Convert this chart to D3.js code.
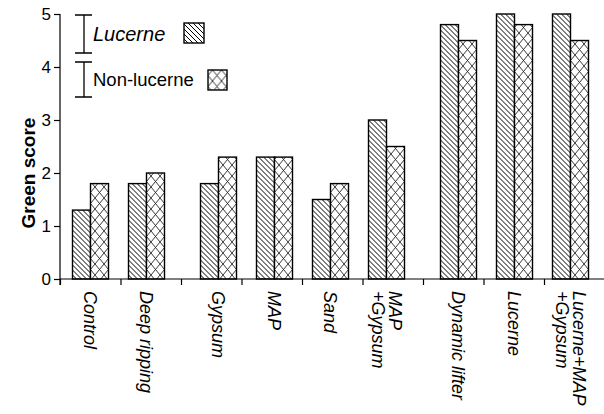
<!DOCTYPE html>
<html><head><meta charset="utf-8">
<script src="https://cdn.jsdelivr.net/npm/d3@7"></script>
<style>body{margin:0;background:#fff}svg{display:block}text{font-family:"Liberation Sans",Arial,sans-serif;fill:#000}</style>
</head><body>
<svg id="c" width="604" height="414"></svg>
<script>
const categories = [["Control"],["Deep ripping"],["Gypsum"],["MAP"],["Sand"],["MAP","+Gypsum"],["Dynamic lifter"],["Lucerne"],["Lucerne+MAP","+Gypsum"]];
const groupIndex = [0,0,1,1,1,1,2,2,2];
const lucerne    = [1.3,1.8,1.8,2.3,1.5,3.0,4.8,5.0,5.0];
const nonLucerne = [1.8,2.0,2.3,2.3,1.8,2.5,4.5,4.8,4.5];
const yTicks = [0,1,2,3,4,5];
const seriesNames = ["Lucerne","Non-lucerne"];

const svg = d3.select("#c");
const x0 = 60, yBase = 279, yTop = 14;
const gap = 16/56;
const y = d3.scaleLinear().domain([0,5]).range([yBase,yTop]);
const x = d3.scaleLinear().domain([0, 8 + 2*gap]).range([90.5, 570.5]);
const pos = (i) => i + groupIndex[i]*gap;
const tickScale = d3.scaleLinear().domain([0,9]).range([x0, x0 + 9*60.5]);
const bw = 18;

const defs = svg.append("defs");
const p1 = defs.append("pattern").attr("id","hatch").attr("patternUnits","userSpaceOnUse").attr("width",5).attr("height",5);
p1.append("rect").attr("width",5).attr("height",5).attr("fill","#fff");
p1.append("path").attr("d","M-1,-1 L6,6 M-1,4 L1,6 M4,-1 L6,1").attr("stroke","#000").attr("stroke-width",1);
const p2 = defs.append("pattern").attr("id","cross").attr("patternUnits","userSpaceOnUse").attr("x",4.5).attr("width",9).attr("height",11);
p2.append("rect").attr("width",9).attr("height",11).attr("fill","#fff");
p2.append("path").attr("d","M0,0 L9,11 M9,0 L0,11").attr("stroke","#222").attr("stroke-width",0.9);

// bars
const g = svg.append("g");
categories.forEach((c,i) => {
  const cx = x(pos(i));
  const gl = g.append("g").attr("transform",`translate(${cx-bw},0)`);
  gl.append("rect").attr("x",0).attr("y",y(lucerne[i])).attr("width",bw).attr("height",y(0)-y(lucerne[i]))
    .attr("fill","url(#hatch)").attr("stroke","#000").attr("stroke-width",1.4);
  const gr = g.append("g").attr("transform",`translate(${cx},0)`);
  gr.append("rect").attr("x",0).attr("y",y(nonLucerne[i])).attr("width",bw).attr("height",y(0)-y(nonLucerne[i]))
    .attr("fill","url(#cross)").attr("stroke","#000").attr("stroke-width",1.4);
});

// y axis
const ya = svg.append("g").attr("transform",`translate(${x0},0)`)
  .call(d3.axisLeft(y).tickValues(yTicks).tickSize(6).tickPadding(3).tickFormat(d3.format("d")));
ya.select(".domain").attr("d",`M0,${yTop}V${yBase+6}`).attr("stroke","#000").attr("stroke-width",1.2);
ya.selectAll(".tick line").attr("stroke","#000").attr("stroke-width",1.2);
ya.selectAll("text").attr("font-size",17).attr("font-family","Liberation Sans, Arial, sans-serif").attr("fill","#000");

// x axis
const xa = svg.append("g").attr("transform",`translate(0,${yBase})`)
  .call(d3.axisBottom(tickScale).ticks(9).tickSize(6).tickFormat(""));
xa.select(".domain").attr("d",`M${x0},0H604`).attr("stroke","#000").attr("stroke-width",1.2);
xa.selectAll(".tick line").attr("stroke","#000").attr("stroke-width",1.2);

// x labels
categories.forEach((c,i) => {
  const cx = x(pos(i));
  const n = c.length;
  c.forEach((line,k) => {
    const off = (n===1) ? 0 : (k===0 ? 9 : -8.5);
    svg.append("text").attr("transform",`translate(${cx+off},291) rotate(90)`)
      .attr("dy","0.35em").attr("font-size",18).attr("font-style","italic").text(line);
  });
});

// y title
svg.append("text").attr("transform","translate(28,173) rotate(-90)").attr("text-anchor","middle")
  .attr("dy","0.35em").attr("font-size",19).attr("font-weight","bold").text("Green score");

// legend
const leg = svg.append("g");
[[15,53],[62,97]].forEach(([a,b]) => {
  leg.append("path").attr("d",`M75,${a}H92M84,${a}V${b}M75,${b}H92`).attr("stroke","#000").attr("stroke-width",1.3).attr("fill","none");
});
leg.append("text").attr("x",93).attr("y",41).attr("font-size",20).attr("font-style","italic").text(seriesNames[0]);
leg.append("rect").attr("x",184).attr("y",23).attr("width",20).attr("height",20).attr("fill","url(#hatch)").attr("stroke","#000").attr("stroke-width",1.4);
leg.append("text").attr("x",93).attr("y",86).attr("font-size",18.5).text(seriesNames[1]);
const lg = leg.append("g").attr("transform","translate(208,70)");
lg.append("rect").attr("width",19).attr("height",20).attr("fill","url(#cross)").attr("stroke","#000").attr("stroke-width",1.4);
</script>
</body></html>
